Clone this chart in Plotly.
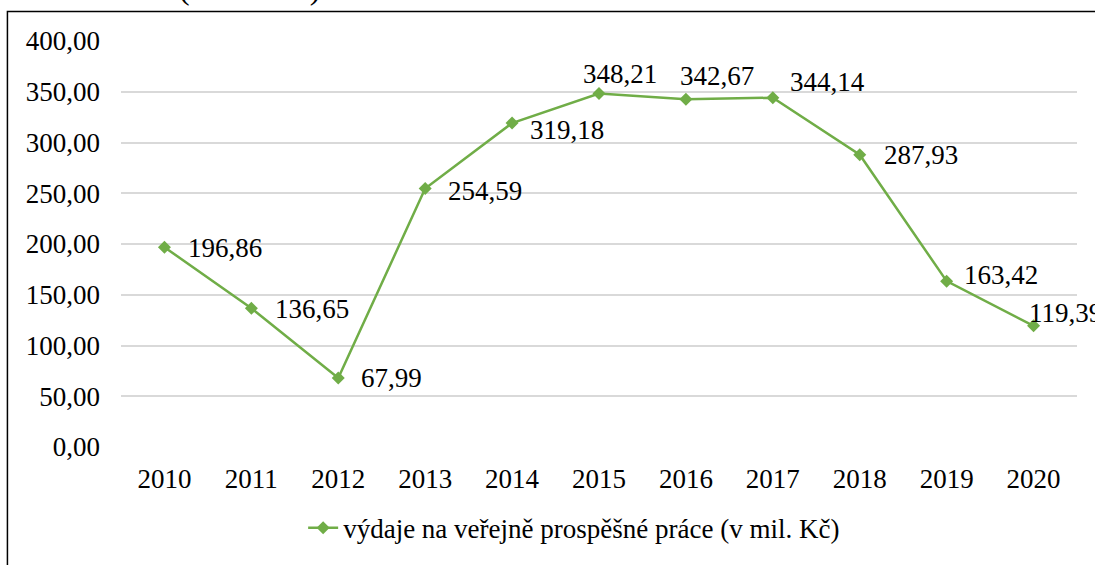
import plotly.graph_objects as go

years = ["2010", "2011", "2012", "2013", "2014", "2015", "2016", "2017", "2018", "2019", "2020"]
values = [196.86, 136.65, 67.99, 254.59, 319.18, 348.21, 342.67, 344.14, 287.93, 163.42, 119.39]
series_name = "výdaje na veřejně prospěšné práce (v mil. Kč)"
y_ticks = [0, 50, 100, 150, 200, 250, 300, 350, 400]

# label offsets in pixels (left edge of label relative to point, vertical shift)
label_dx = [22, 22, 21, 21, 16, -18, -8, 15, 22, 15, -7]
label_dy = [-1, -1, 0, -2, -7, 20, 23, 16, 0, 6, 13]

GREEN = "#70AD47"
FONT = "Liberation Serif"
FS = 27

fig = go.Figure()
fig.add_trace(go.Scatter(
    x=years, y=values, mode="lines+markers", name=series_name,
    line=dict(color=GREEN, width=2.5),
    marker=dict(symbol="diamond", size=10, color=GREEN),
    cliponaxis=False,
))

for i, (v, dx, dy) in enumerate(zip(values, label_dx, label_dy)):
    fig.add_annotation(
        x=i, y=v, xref="x", yref="y",
        text=f"{v:.2f}".replace(".", ","),
        showarrow=False, xanchor="left", yanchor="middle",
        xshift=dx, yshift=dy,
        font=dict(family=FONT, size=FS, color="black"),
    )

# partially visible caption above the chart
fig.add_annotation(
    x=(249 - 121) / 956, y=1.130, xref="paper", yref="paper",
    text="(v mil. Kč)", showarrow=False, xanchor="center", yanchor="middle",
    font=dict(family=FONT, size=32, color="black"),
)

# chart border
fig.add_shape(type="rect", xref="paper", yref="paper",
              x0=-0.1188, x1=1.2, y0=-0.6, y1=1.0727,
              line=dict(color="black", width=1.5), fillcolor="rgba(0,0,0,0)", layer="above")

fig.update_layout(
    width=1095, height=565, autosize=False,
    margin=dict(l=121, r=18, t=41, b=114),
    paper_bgcolor="white", plot_bgcolor="white",
    separators=", ",
    font=dict(family=FONT, size=FS, color="black"),
    showlegend=True,
    legend=dict(orientation="h", x=0.474, xanchor="center", y=-0.2, yanchor="middle",
                font=dict(family=FONT, size=FS, color="black"), bgcolor="rgba(0,0,0,0)"),
    xaxis=dict(type="category", range=[-0.5, 10.5], showgrid=False, showline=False,
               ticks="", tickfont=dict(family=FONT, size=FS, color="black"),
               ticklabelstandoff=13, zeroline=False),
    yaxis=dict(range=[0, 400], tickvals=y_ticks, tickformat=".2f",
               showgrid=True, gridcolor="#D9D9D9", gridwidth=1.5,
               zeroline=False, showline=False, ticks="",
               tickfont=dict(family=FONT, size=FS, color="black"),
               ticklabelstandoff=20),
)

fig.write_html("out.html", config={"displayModeBar": False},
               post_script="document.body.style.margin='0';document.body.style.overflow='hidden';")
